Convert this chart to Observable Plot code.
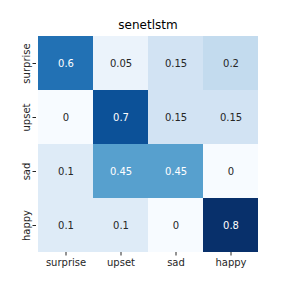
<!DOCTYPE html>
<html><head><meta charset="utf-8">
<script src="https://cdn.jsdelivr.net/npm/d3@7"></script>
<script src="https://cdn.jsdelivr.net/npm/@observablehq/plot@0.6"></script>
<style>body{margin:0;background:#fff;} svg{display:block;}</style>
</head><body><div id="chart"></div>
<script>
const title = "senetlstm";
const rowLabels = ["surprise", "upset", "sad", "happy"];
const colLabels = ["surprise", "upset", "sad", "happy"];
const rowSurprise = [0.6, 0.05, 0.15, 0.2];
const rowUpset = [0, 0.7, 0.15, 0.15];
const rowSad = [0.1, 0.45, 0.45, 0];
const rowHappy = [0.1, 0.1, 0, 0.8];
const matrix = [rowSurprise, rowUpset, rowSad, rowHappy];

const data = [];
rowLabels.forEach((r, i) => colLabels.forEach((c, j) => data.push({row: r, col: c, value: matrix[i][j]})));

const vmax = d3.max(data, d => d.value);

const chart = Plot.plot({
  width: 288, height: 288,
  marginTop: 35, marginBottom: 36, marginLeft: 36, marginRight: 29,
  style: {fontFamily: "DejaVu Sans", fontSize: "10px", color: "#262626", background: "#fff"},
  x: {domain: colLabels, padding: 0, label: null, tickSize: 3.5, tickPadding: 3},
  y: {domain: rowLabels, padding: 0, label: null, tickSize: 3.5, tickPadding: 3, tickRotate: -90},
  color: {type: "linear", scheme: "blues", domain: [0, vmax]},
  marks: [
    Plot.cell(data, {x: "col", y: "row", fill: "value", inset: 0}),
    Plot.text(data, {x: "col", y: "row", text: d => String(d.value), fontSize: 10, fontFamily: "DejaVu Sans",
      fill: d => d.value >= 0.4 ? "#ffffff" : "#262626"}),
    Plot.text([title], {frameAnchor: "top", lineAnchor: "bottom", dy: -6.5, fontSize: 12, fontFamily: "DejaVu Sans", fill: "#000", text: d => d}),
    Plot.axisX({domain: colLabels, tickSize: 3.5, tickPadding: 3, fontSize: 10}),
    Plot.axisY({domain: rowLabels, tickSize: 3.5, tickPadding: 3, tickRotate: -90, fontSize: 10})
  ]
});
document.getElementById("chart").appendChild(chart);
</script></body></html>
